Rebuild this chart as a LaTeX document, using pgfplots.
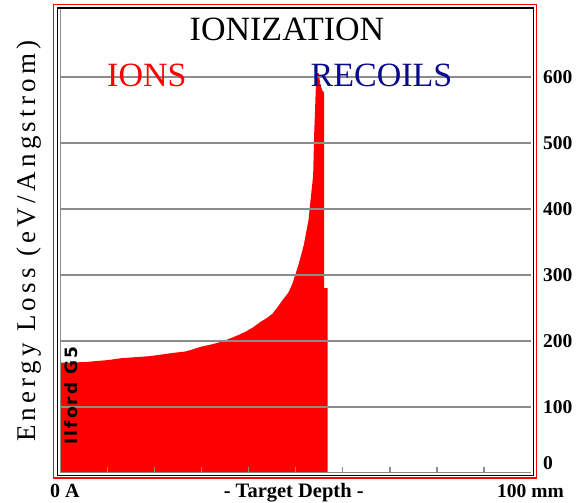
\documentclass[border=0pt]{standalone}
\usepackage{pgfplots}
\pgfplotsset{compat=1.18}
\usepackage{fontspec}
\setmainfont{Liberation Serif}
\newfontfamily\ylabfont[LetterSpace=16]{Liberation Serif}
\newfontfamily\filmfont[LetterSpace=12]{DejaVu Sans}
\definecolor{navy}{RGB}{10,10,140}
\definecolor{gridgray}{RGB}{140,140,140}
\begin{document}
\begin{tikzpicture}[x=1pt,y=1pt]
\useasboundingbox (0,0) rectangle (587,503);
\begin{axis}[
  at={(60.5pt,30pt)}, anchor=south west,
  scale only axis, width=470.5pt, height=464pt,
  xmin=0, xmax=100, ymin=0, ymax=703,
  axis line style={draw=none},
  axis on top,
  xtick={10,20,...,90}, xticklabels={},
  xtick pos=bottom, tick align=inside,
  major tick length=6pt,
  xtick style={draw=gridgray, line width=1.3pt},
  ytick={100,200,...,600},
  ytick pos=right, yticklabel pos=right,
  ytick style={draw=none},
  ymajorgrids, major grid style={draw=gridgray, line width=1.5pt},
  /pgf/number format/assume math mode=true,
  yticklabel style={anchor=west, inner sep=0pt, xshift=12pt, font=\fontsize{19.5}{20}\selectfont\bfseries},
  extra y ticks={0}, extra y tick style={grid=none, yticklabel style={yshift=10pt}},
]
\addplot[fill=red, draw=none] coordinates {
(0,0) (0,167) (5,168) (10,171) (13,174) (19,177) (24,182) (26.5,184) (28,187)
(29.7,191) (32.2,195) (33.3,197) (35.4,202) (37.8,209) (39.3,214) (41,221)
(42.5,229) (43.9,235) (45,241) (45.9,249) (47.1,261) (48.5,274) (49.3,287)
(50.6,316) (51.7,345) (52.7,383) (53.7,451) (53.9,510) (54.1,550) (54.3,590)
(54.6,606) (54.9,606) (55.2,590) (55.6,580) (56.05,576) (56.05,280) (56.8,280) (56.8,0)
} \closedcycle;
\end{axis}
% axis lines and frames
\draw[gridgray, line width=1.7pt] (60.5,30.5) -- (531,30.5);
\draw[gridgray, line width=1.3pt] (60.7,30) -- (60.7,494);
\draw[black, line width=1.5pt] (57.3,27.5) rectangle (533.3,494.8);
\draw[red, line width=1.3pt] (53.5,25) rectangle (536.7,498.5);
% titles
\node[anchor=base, inner sep=0pt, font=\fontsize{34}{36}\selectfont] at (287,462) {IONIZATION};
\node[anchor=base west, inner sep=0pt, text=red, font=\fontsize{34}{36}\selectfont] at (107,416.2) {IONS};
\node[anchor=base west, inner sep=0pt, text=navy, font=\fontsize{34}{36}\selectfont] at (310.5,416.2) {RECOILS};
% x labels
\node[anchor=base west, inner sep=0pt, font=\fontsize{20}{22}\selectfont\bfseries] at (49.8,5.5) {0 A};
\node[anchor=base, inner sep=0pt, font=\fontsize{20.5}{22}\selectfont\bfseries] at (293.7,5.5) {- Target Depth -};
\node[anchor=base east, inner sep=0pt, font=\fontsize{19.5}{22}\selectfont\bfseries] at (564,5.5) {100 mm};
% y label
\node[rotate=90, inner sep=0pt, font=\fontsize{27}{29}\ylabfont] at (29,262) {Energy Loss (eV/Angstrom)};
% film label
\node[rotate=90, inner sep=0pt, font=\fontsize{17}{19}\filmfont\bfseries] at (71,107.5) {Ilford G5};
\end{tikzpicture}
\end{document}
